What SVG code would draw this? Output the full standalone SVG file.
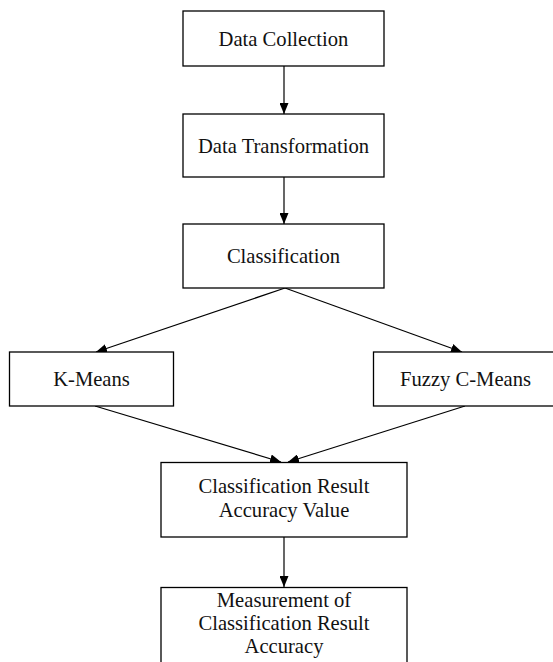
<svg xmlns="http://www.w3.org/2000/svg" width="553" height="662" viewBox="0 0 553 662">
<style>
.box{fill:#fff;stroke:#000;stroke-width:1.3}
.lbl{font-family:"Liberation Serif","Times New Roman",serif;font-size:20.6px;fill:#111;text-anchor:middle}
.edge{stroke:#000;stroke-width:1.2;fill:none;marker-end:url(#arr)}
</style>
<defs>
<marker id="arr" markerUnits="userSpaceOnUse" markerWidth="11" markerHeight="9" refX="11" refY="4.5" orient="auto">
<path d="M0,0 L11,4.5 L0,9 z" fill="#000"/>
</marker>
</defs>
<rect width="553" height="662" fill="#fff"/>
<g id="connectors">
<line class="edge" x1="284" y1="66" x2="284" y2="114"/>
<line class="edge" x1="284" y1="177" x2="284" y2="224"/>
<line class="edge" x1="285" y1="288" x2="96" y2="352"/>
<line class="edge" x1="285" y1="288" x2="462" y2="352"/>
<line class="edge" x1="95" y1="406" x2="281" y2="462"/>
<line class="edge" x1="465" y1="406" x2="288" y2="462"/>
<line class="edge" x1="284" y1="537" x2="284" y2="587"/>
</g>
<g id="data-collection">
<rect class="box" x="183" y="11" width="201" height="55"/>
<text class="lbl" x="283.5" y="46">Data Collection</text>
</g>
<g id="data-transformation">
<rect class="box" x="183" y="114" width="201" height="63"/>
<text class="lbl" x="283.5" y="153">Data Transformation</text>
</g>
<g id="classification">
<rect class="box" x="183" y="224" width="201" height="64"/>
<text class="lbl" x="283.5" y="263">Classification</text>
</g>
<g id="k-means">
<rect class="box" x="9.5" y="352" width="164" height="54"/>
<text class="lbl" x="91.5" y="386">K-Means</text>
</g>
<g id="fuzzy-c-means">
<rect class="box" x="373.5" y="352" width="184" height="54"/>
<text class="lbl" x="465.5" y="386">Fuzzy C-Means</text>
</g>
<g id="accuracy-value">
<rect class="box" x="161" y="462.5" width="246" height="74.5"/>
<text class="lbl" x="284" y="493">Classification Result</text>
<text class="lbl" x="284" y="516.5">Accuracy Value</text>
</g>
<g id="measurement">
<rect class="box" x="161" y="587.5" width="246" height="90"/>
<text class="lbl" x="284" y="607">Measurement of</text>
<text class="lbl" x="284" y="630">Classification Result</text>
<text class="lbl" x="284" y="653">Accuracy</text>
</g>
</svg>
